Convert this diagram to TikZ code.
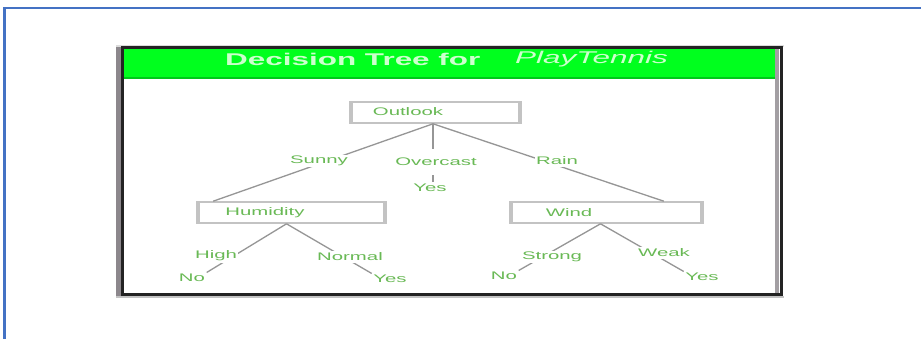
\documentclass[tikz,border=0pt]{standalone}
\usepackage{fontspec}
\setmainfont{Liberation Sans}
\usetikzlibrary{calc}
\definecolor{blueline}{RGB}{68,114,196}
\definecolor{hdrgreen}{RGB}{0,255,30}
\definecolor{hdrdark}{RGB}{0,200,25}
\definecolor{hdrtext}{RGB}{205,255,205}
\definecolor{txtgreen}{RGB}{105,185,85}
\definecolor{boxgray}{RGB}{195,195,195}
\definecolor{linegray}{RGB}{150,150,150}
\definecolor{framedark}{RGB}{35,35,35}
\definecolor{shadegray}{RGB}{140,135,140}
\newcommand{\wx}[1]{\scalebox{1.85}[1]{#1}}
\begin{document}
\begin{tikzpicture}[x=1pt,y=-1pt,
  lbl/.style={font=\fontsize{11}{12}\selectfont, text=txtgreen, fill=white, inner sep=1.5pt},
  btxt/.style={font=\fontsize{11}{12}\selectfont, text=txtgreen, inner sep=0pt},
  dbox/.style={draw=boxgray, line width=1.6pt, fill=white, minimum height=21pt, inner sep=0pt},
  side/.style={draw=boxgray, line width=3.5pt},
  conn/.style={draw=linegray, line width=1.3pt},
  hdr/.style={font=\fontsize{17}{18}\selectfont, text=hdrtext, inner sep=0pt, anchor=west}]
\useasboundingbox (0,0) rectangle (921,339);
% page border
\draw[blueline, line width=2.3pt] (4.5,339) -- (4.5,8) -- (921,8);
% frame
\fill[shadegray] (116,45) rectangle (121,297);
\fill[boxgray!60] (116,45) rectangle (784,47);
\fill[white] (121,48) rectangle (781,294);
\fill[hdrgreen] (124,49) rectangle (779,78);
\fill[hdrdark] (124,77) rectangle (779,79.5);
\fill[shadegray!80] (775,49) rectangle (779,293);
\fill[boxgray] (116,296) rectangle (784,298);
\draw[framedark, line width=3pt] (122.5,48) rectangle (781.5,294.5);
% header
\node[hdr] (title) at (225,59) {\wx{\bfseries Decision Tree for}};
\node[hdr] (titleb) at (515,59) {\wx{\itshape PlayTennis}};
% boxes
\node[dbox, minimum width=167pt] (o) at (435.5,112.5) {};
\node[dbox, minimum width=185pt] (h) at (291.5,212.5) {};
\node[dbox, minimum width=189pt] (w) at (606.5,212.5) {};
\foreach \b in {o,h,w}{
  \draw[side] (\b.north west) -- (\b.south west);
  \draw[side] (\b.north east) -- (\b.south east);
}
\node[btxt] (ot) at (408,112) {\wx{Outlook}};
\node[btxt] (ht) at (265,213) {\wx{Humidity}};
\node[btxt] (wt) at (569,213) {\wx{Wind}};
% anchor points
\coordinate (oa) at ($(o.south)+(-2.5,0)$);
\coordinate (ha) at ($(h.north west)+(15,0)$);
\coordinate (wa) at ($(w.north east)+(-38,0)$);
\coordinate (hb) at ($(h.south)+(-5,0)$);
\coordinate (wb) at ($(w.south)+(-6,0)$);
% leaves
\node[lbl] (yes1) at (430,188) {\wx{Yes}};
\node[lbl] (no1) at (192,278) {\wx{No}};
\node[lbl] (yes2) at (390,279) {\wx{Yes}};
\node[lbl] (no2) at (504,276) {\wx{No}};
\node[lbl] (yes3) at (702,277) {\wx{Yes}};
% connectors
\draw[conn] (oa) -- (ha);
\draw[conn] (oa) -- (wa);
\draw[conn] (oa) -- (oa |- yes1.north);
\draw[conn] (hb) -- (no1.north east);
\draw[conn] (hb) -- (yes2.north west);
\draw[conn] (wb) -- (no2.north east);
\draw[conn] (wb) -- (yes3.north west);
% branch labels
\node[lbl] (sunny) at (319,161) {\wx{Sunny}};
\node[lbl, inner ysep=9pt, inner xsep=0pt] (over) at (436,162) {\wx{Overcast}};
\node[lbl] (rain) at (557,161) {\wx{Rain}};
\node[lbl] (high) at (216,256) {\wx{High}};
\node[lbl] (normal) at (350,257) {\wx{Normal}};
\node[lbl] (strong) at (552,257) {\wx{Strong}};
\node[lbl] (weak) at (664,253) {\wx{Weak}};
\end{tikzpicture}
\end{document}
